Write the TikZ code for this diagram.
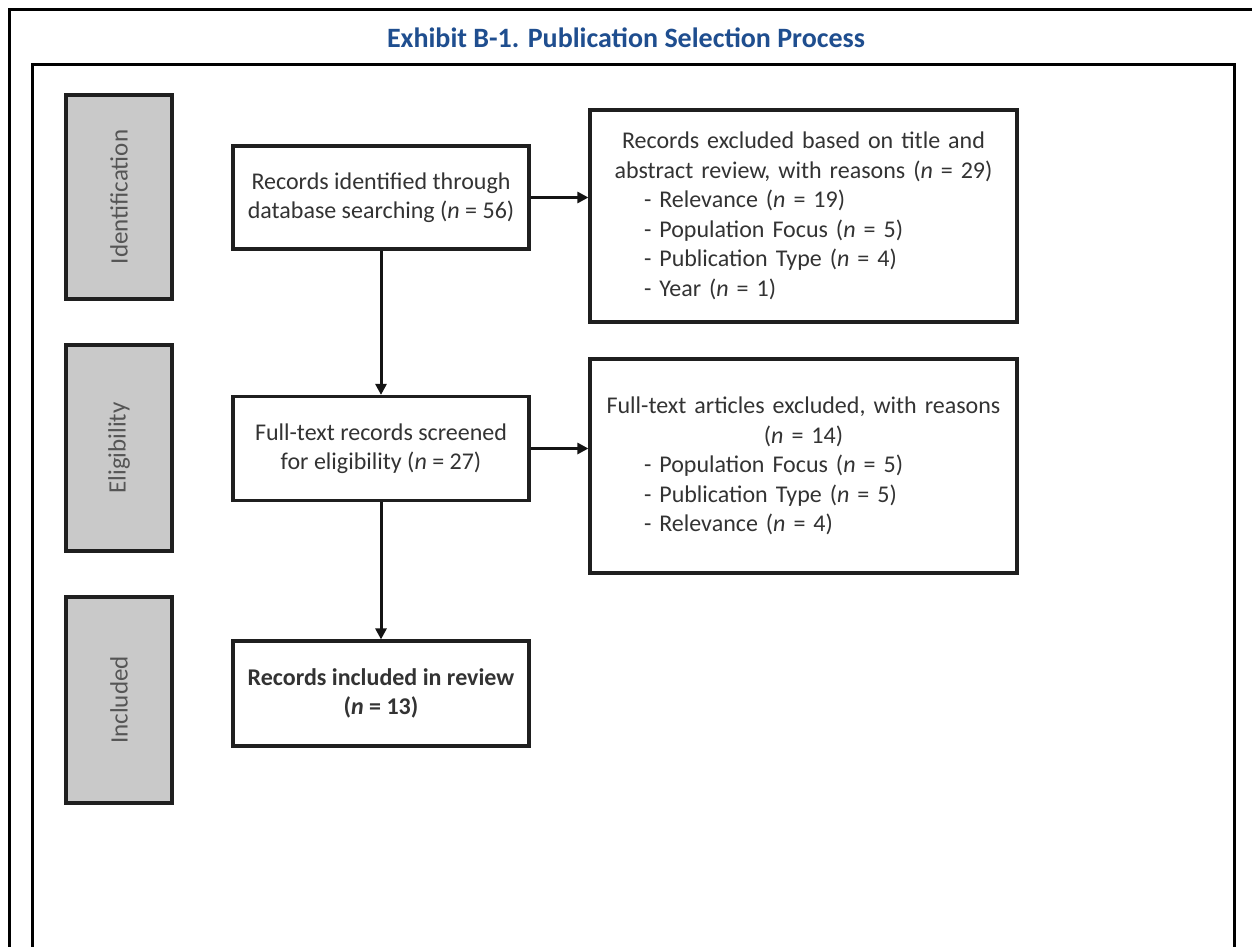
\documentclass[tikz,border=0pt]{standalone}
\usepackage{fontspec}
\setmainfont{Carlito}
\usetikzlibrary{arrows.meta}
\definecolor{titleblue}{HTML}{1F4E8F}
\definecolor{sidegray}{HTML}{C9C9C9}
\definecolor{txtgray}{HTML}{333333}
\definecolor{sidetxt}{HTML}{555555}
\newcommand{\listline}[1]{\makebox[427pt][l]{\hspace{54pt}#1}}
\begin{document}
\begin{tikzpicture}[x=1pt,y=-1pt,
  framebox/.style={draw=black, line width=3pt},
  stagebox/.style={draw=black!88, line width=3.2pt, fill=sidegray, rotate=90,
    minimum width=204pt, minimum height=106pt, inner sep=0pt,
    text=sidetxt, font=\fontsize{25}{30}\selectfont},
  flowbox/.style={draw=black!88, line width=3.2pt, fill=white, inner sep=0pt,
    text=txtgray, font=\fontsize{24}{29.5}\selectfont, align=center},
  flowarrow/.style={line width=3pt, draw=black!92, -{Triangle[length=11pt,width=11pt]}}
]
\useasboundingbox (0,0) rectangle (1252,947);
\fill[white] (0,0) rectangle (1252,947);
% frames
\draw[framebox] (9,960) -- (9,10) -- (1265,10);
\draw[framebox] (32,960) -- (32,65) -- (1234,65) -- (1234,960);
% title
\node[font=\bfseries\fontsize{28}{32}\selectfont, text=titleblue] (title) at (626,38) {Exhibit B-1. Publication Selection Process};
% stage boxes
\node[stagebox] (ident) at (119,197) {Identification};
\node[stagebox, minimum width=206pt] (elig) at (119,448) {Eligibility};
\node[stagebox, minimum width=206pt] (incl) at (119,700) {Included};
% flow boxes
\node[flowbox, minimum width=296pt, minimum height=103pt] (found) at (381,197.5)
  {Records identified through\\database searching (\textit{n} = 56)};
\node[flowbox, minimum width=296pt, minimum height=104pt] (screen) at (381,448.5)
  {Full-text records screened\\for eligibility (\textit{n} = 27)};
\node[flowbox, minimum width=296pt, minimum height=105pt, font=\bfseries\fontsize{24}{29.5}\selectfont] (incbox) at (381,693.5)
  {Records included in review\\(\textit{n} = 13)};
\node[flowbox, minimum width=427pt, minimum height=212pt, text width=427pt] (excl1) at (803.5,216)
  {Records excluded based on title and\\abstract review, with reasons (\textit{n} = 29)\\
   \listline{- Relevance (\textit{n} = 19)}\\
   \listline{- Population Focus (\textit{n} = 5)}\\
   \listline{- Publication Type (\textit{n} = 4)}\\
   \listline{- Year (\textit{n} = 1)}};
\node[flowbox, minimum width=427pt, minimum height=214pt, text width=427pt] (excl2) at (803.5,466)
  {Full-text articles excluded, with reasons\\(\textit{n} = 14)\\
   \listline{- Population Focus (\textit{n} = 5)}\\
   \listline{- Publication Type (\textit{n} = 5)}\\
   \listline{- Relevance (\textit{n} = 4)}};
% connectors
\draw[flowarrow] (found.south) -- (screen.north);
\draw[flowarrow] (screen.south) -- (incbox.north);
\draw[flowarrow] (found.east) -- (found.east -| excl1.west);
\draw[flowarrow] (screen.east) -- (screen.east -| excl2.west);
\end{tikzpicture}
\end{document}
